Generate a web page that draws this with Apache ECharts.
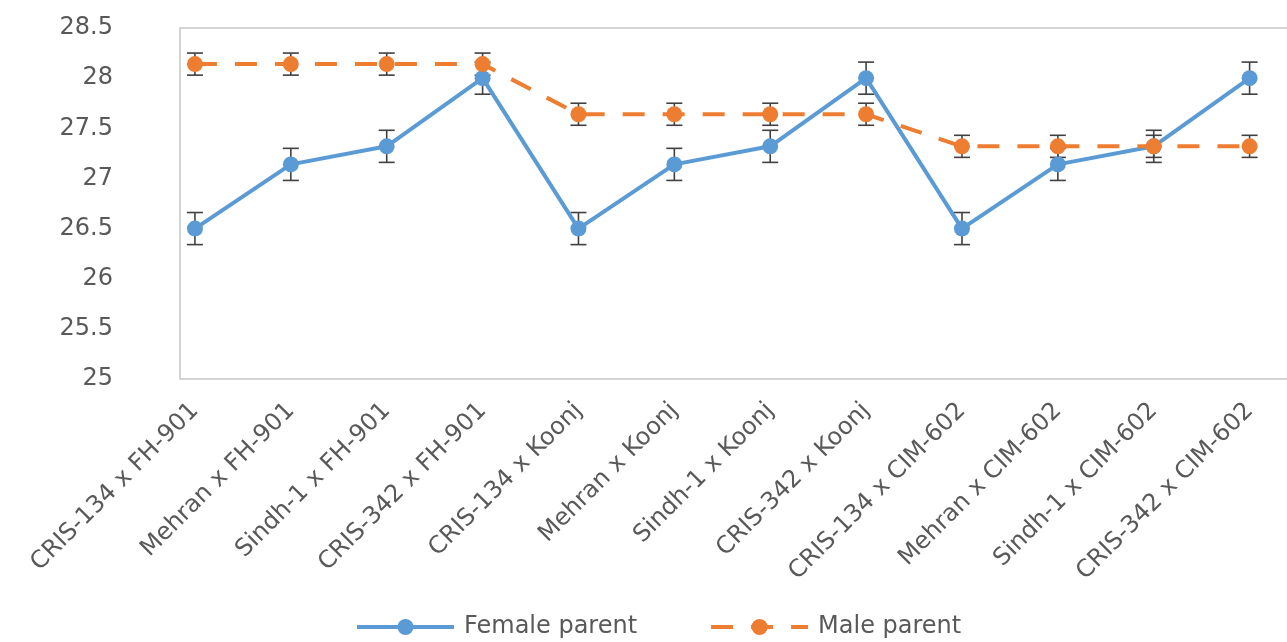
<!DOCTYPE html>
<html>
<head>
<meta charset="utf-8">
<script src="https://cdn.jsdelivr.net/npm/echarts@6/dist/echarts.min.js"></script>
<style>
html,body{margin:0;padding:0;background:#fff;}
#chart{width:1287px;height:642px;}
</style>
</head>
<body>
<div id="chart"></div>
<script>
const categories = ['CRIS-134 x FH-901','Mehran x FH-901','Sindh-1 x FH-901','CRIS-342 x FH-901','CRIS-134 x Koonj','Mehran x Koonj','Sindh-1 x Koonj','CRIS-342 x Koonj','CRIS-134 x CIM-602','Mehran x CIM-602','Sindh-1 x CIM-602','CRIS-342 x CIM-602'];
const femaleParent = [26.5,27.14,27.32,28.0,26.5,27.14,27.32,28.0,26.5,27.14,27.32,28.0];
const maleParent = [28.14,28.14,28.14,28.14,27.64,27.64,27.64,27.64,27.32,27.32,27.32,27.32];
const femaleError = [0.16,0.16,0.16,0.16,0.16,0.16,0.16,0.16,0.16,0.16,0.16,0.16];
const maleError = [0.11,0.11,0.11,0.11,0.11,0.11,0.11,0.11,0.11,0.11,0.11,0.11];
const yTicks = [25,25.5,26,26.5,27,27.5,28,28.5];

const FONT = 'DejaVu Sans';
const TXT = '#595959';
const BLUE = '#5B9BD5';
const ORANGE = '#ED7D31';
const FRAME = {show:true, lineStyle:{color:'#d4d4d4', width:2}};

const idx = categories.map((c,i)=>i);
const pts = arr => arr.map((v,i)=>[i,v]);
const errData = (vals, errs) => vals.map((v,i)=>[i, v-errs[i], v+errs[i]]);

function errRender(params, api){
  const x = api.value(0);
  const lo = api.coord([x, api.value(1)]);
  const hi = api.coord([x, api.value(2)]);
  const w = 8;
  const st = {stroke:'#404040', lineWidth:1.6};
  return {type:'group', children:[
    {type:'line', shape:{x1:lo[0],y1:lo[1],x2:hi[0],y2:hi[1]}, style:st},
    {type:'line', shape:{x1:hi[0]-w,y1:hi[1],x2:hi[0]+w,y2:hi[1]}, style:st},
    {type:'line', shape:{x1:lo[0]-w,y1:lo[1],x2:lo[0]+w,y2:lo[1]}, style:st}
  ]};
}

const chart = echarts.init(document.getElementById('chart'), null, {renderer:'canvas'});
chart.setOption({
  animation:false,
  backgroundColor:'#ffffff',
  grid:{left:180, top:28, right:0, bottom:263, show:false},
  xAxis:[{
    type:'value', min:-0.156, max:11.39, position:'bottom',
    axisLine:Object.assign({onZero:false}, FRAME), axisTick:{show:false}, splitLine:{show:false},
    axisLabel:{
      customValues: idx,
      rotate:45, margin:28, color:TXT, fontFamily:FONT, fontSize:24,
      formatter: v => categories[Math.round(v)]
    }
  },{
    type:'value', min:-0.156, max:11.39, position:'top',
    axisLine:Object.assign({onZero:false}, FRAME), axisTick:{show:false}, splitLine:{show:false}, axisLabel:{show:false}
  }],
  yAxis:{
    type:'value', min:yTicks[0], max:yTicks[yTicks.length-1], interval:0.5,
    axisLine:Object.assign({onZero:false}, FRAME), axisTick:{show:false}, splitLine:{show:false},
    axisLabel:{color:TXT, fontFamily:FONT, fontSize:24, margin:67}
  },
  legend:{
    data:['Female parent','Male parent'],
    left:350, top:610, itemWidth:97, itemHeight:20, itemGap:72,
    lineStyle:{width:4},
    textStyle:{color:TXT, fontFamily:FONT, fontSize:24, padding:[0,0,0,5]}
  },
  series:[
    {type:'custom', name:'femaleErr', renderItem:errRender, data:errData(femaleParent,femaleError), z:1, silent:true},
    {type:'custom', name:'maleErr', renderItem:errRender, data:errData(maleParent,maleError), z:1, silent:true},
    {type:'line', name:'Female parent', data:pts(femaleParent), symbol:'circle', symbolSize:16,
     lineStyle:{color:BLUE, width:4}, itemStyle:{color:BLUE}, z:3},
    {type:'line', name:'Male parent', data:pts(maleParent), symbol:'circle', symbolSize:16,
     lineStyle:{color:ORANGE, width:4, type:[22,18]}, itemStyle:{color:ORANGE}, z:4}
  ]
});
</script>
</body>
</html>
